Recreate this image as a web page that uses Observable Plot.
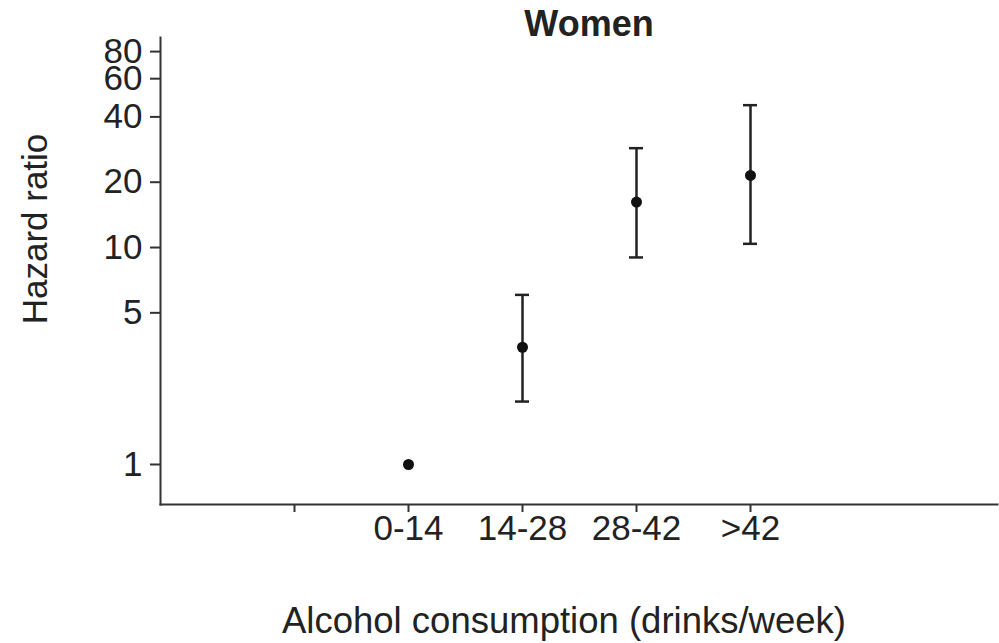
<!DOCTYPE html>
<html>
<head>
<meta charset="utf-8">
<script src="https://cdn.jsdelivr.net/npm/d3@7"></script>
<script src="https://cdn.jsdelivr.net/npm/@observablehq/plot@0.6"></script>
<style>
  html, body { margin: 0; padding: 0; background: #fff; }
  #chart svg { display: block; }
</style>
</head>
<body>
<div id="chart"></div>
<script>
// Data
const categories = ["0-14", "14-28", "28-42", ">42"];
const hazardRatio = [1.0, 3.47, 16.2, 21.5];
const ciLower = [null, 1.95, 9.0, 10.4];
const ciUpper = [null, 6.05, 28.7, 45.3];
const yTicks = [1, 5, 10, 20, 40, 60, 80];
const xDomain = ["", ...categories];

const rows = categories.map((c, i) => ({
  cat: c, hr: hazardRatio[i], lo: ciLower[i], hi: ciUpper[i]
}));
const ciRows = rows.filter(d => d.lo != null);

const ink = "#222";
const font = "Liberation Sans, Arial, Helvetica, sans-serif";

const chart = Plot.plot({
  width: 999,
  height: 643,
  marginLeft: 160,
  marginRight: 2,
  marginTop: 37,
  marginBottom: 139,
  style: { fontFamily: font, color: ink, background: "#fff" },
  x: { type: "point", domain: xDomain, range: [292, 751], padding: 0 },
  y: { type: "log", domain: [0.654, 92.9] },
  marks: [
    Plot.frame({ anchor: "left", stroke: "#333", strokeWidth: 2 }),
    Plot.frame({ anchor: "bottom", stroke: "#333", strokeWidth: 2 }),
    Plot.axisY({
      ticks: yTicks, tickSize: 10, text: null, stroke: "#333", strokeWidth: 2, label: null
    }),
    Plot.text(yTicks, {
      y: d => d, text: d => String(d), frameAnchor: "left", dx: -18,
      textAnchor: "end", lineAnchor: "middle", fontSize: 35, fill: ink
    }),
    Plot.axisX({
      tickSize: 8, tickPadding: 3, fontSize: 35, stroke: "#333", strokeWidth: 2,
      label: null, fill: ink
    }),
    Plot.ruleX(ciRows, { x: "cat", y1: "lo", y2: "hi", stroke: "#222", strokeWidth: 2.5 }),
    Plot.ruleY(ciRows, { x1: "cat", x2: "cat", y: "lo", stroke: "#222", strokeWidth: 2.5, insetLeft: -7, insetRight: -7 }),
    Plot.ruleY(ciRows, { x1: "cat", x2: "cat", y: "hi", stroke: "#222", strokeWidth: 2.5, insetLeft: -7, insetRight: -7 }),
    Plot.dot(rows, { x: "cat", y: "hr", r: 5.5, fill: "#111", stroke: "none" }),
    Plot.text(["Women"], {
      frameAnchor: "top", dx: 10, dy: -13, fontSize: 36, fontWeight: "bold",
      fill: ink, lineAnchor: "middle"
    }),
    Plot.text(["Hazard ratio"], {
      frameAnchor: "left", dx: -125, dy: -42, rotate: -90, fontSize: 35,
      fill: ink, lineAnchor: "middle", textAnchor: "middle"
    }),
    Plot.text(["Alcohol consumption (drinks/week)"], {
      frameAnchor: "bottom", dx: -15, dy: 117, fontSize: 36.5,
      fill: ink, lineAnchor: "middle"
    })
  ]
});
document.getElementById("chart").appendChild(chart);
</script>
</body>
</html>
